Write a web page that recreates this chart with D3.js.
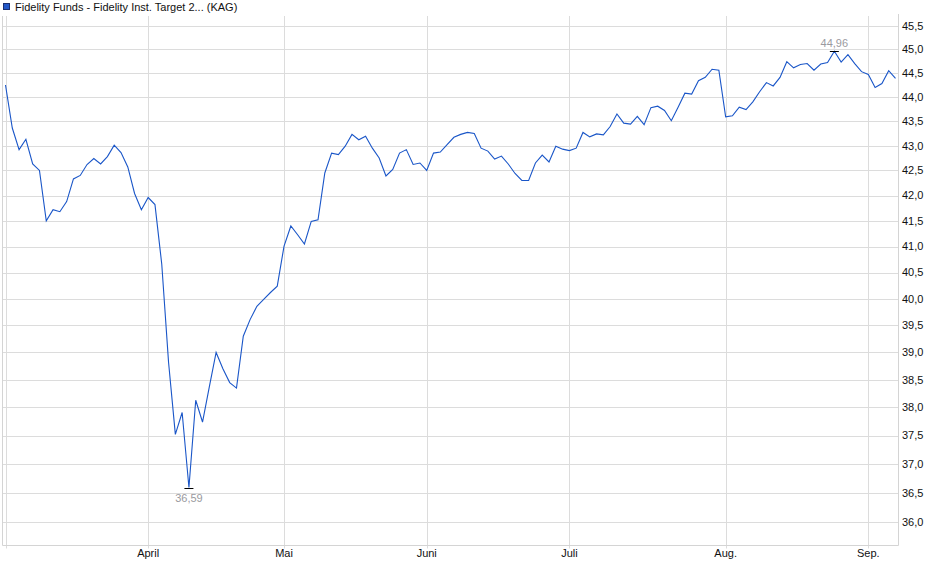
<!DOCTYPE html>
<html>
<head>
<meta charset="utf-8">
<script src="https://cdn.jsdelivr.net/npm/d3@7"></script>
<style>
  body { margin: 0; background: #fff; }
  text { font-family: "Liberation Sans", Arial, sans-serif; }
</style>
</head>
<body>
<div id="chart"></div>
<script>
// Fund price, one value per trading day (Mar - Sep)
var prices = [
  44.25, 43.36, 42.92, 43.13, 42.63, 42.50, 41.50, 41.72, 41.68, 41.88,
  42.33, 42.40, 42.62, 42.74, 42.63, 42.78, 43.01, 42.86, 42.57, 42.04,
  41.72, 41.96, 41.82, 40.66, 38.82, 37.52, 37.91, 36.59, 38.13, 37.74,
  38.37, 39.00, 38.70, 38.45, 38.35, 39.30, 39.61, 39.86, 39.99, 40.12,
  40.24, 41.01, 41.40, 41.23, 41.05, 41.49, 41.52, 42.45, 42.85, 42.82,
  42.99, 43.23, 43.12, 43.19, 42.95, 42.75, 42.39, 42.52, 42.85, 42.92,
  42.62, 42.65, 42.50, 42.85, 42.87, 43.02, 43.17, 43.23, 43.27, 43.25,
  42.95, 42.89, 42.73, 42.79, 42.63, 42.44, 42.30, 42.30, 42.65, 42.81,
  42.67, 42.99, 42.93, 42.90, 42.95, 43.27, 43.18, 43.24, 43.22, 43.39,
  43.65, 43.46, 43.44, 43.60, 43.43, 43.78, 43.81, 43.72, 43.51, 43.79,
  44.08, 44.06, 44.34, 44.41, 44.58, 44.56, 43.59, 43.61, 43.79, 43.74,
  43.90, 44.11, 44.30, 44.23, 44.41, 44.74, 44.61, 44.68, 44.70, 44.56,
  44.69, 44.72, 44.96, 44.73, 44.89, 44.70, 44.53, 44.47, 44.20, 44.28,
  44.55, 44.39
];

// month ticks (index of first trading day of the month)
var monthIndex = [0, 21, 41, 62, 83, 106, 127];
var monthLabels = ["", "April", "Mai", "Juni", "Juli", "Aug.", "Sep."];

var yTicks = [36.0, 36.5, 37.0, 37.5, 38.0, 38.5, 39.0, 39.5, 40.0, 40.5,
  41.0, 41.5, 42.0, 42.5, 43.0, 43.5, 44.0, 44.5, 45.0, 45.5];

var title = "Fidelity Funds - Fidelity Inst. Target 2... (KAG)";

var svgWidth = 940;
var svgHeight = 579;

var plot = { left: 2.5, right: 898.5, top: 16, bottom: 545.5 };

var svg = d3.select("#chart")
  .append("svg")
  .attr("width", svgWidth)
  .attr("height", svgHeight);

// Scales
var xScale = d3.scaleLinear()
  .domain([0, prices.length - 1])
  .range([5.5, 895.5]);

var yScale = d3.scaleLog()
  .domain([36, 45.5])
  .range([522, 26]);

var deFormat = d3.formatLocale({ decimal: ",", thousands: ".", grouping: [3], currency: ["", "€"] });
var fmt1 = deFormat.format(".1f");
var fmt2 = deFormat.format(".2f");

// horizontal grid
svg.append("g")
  .selectAll("line")
  .data(yTicks)
  .enter()
  .append("line")
  .attr("x1", plot.left)
  .attr("x2", plot.right)
  .attr("y1", d => Math.round(yScale(d)) + 0.5)
  .attr("y2", d => Math.round(yScale(d)) + 0.5)
  .attr("stroke", "#dcdcdc")
  .attr("stroke-width", 1);

// vertical grid + month ticks
svg.append("g")
  .selectAll("line")
  .data(monthIndex)
  .enter()
  .append("line")
  .attr("x1", d => Math.round(xScale(d)) + 0.5)
  .attr("x2", d => Math.round(xScale(d)) + 0.5)
  .attr("y1", plot.top)
  .attr("y2", plot.bottom + 3)
  .attr("stroke", "#dcdcdc")
  .attr("stroke-width", 1);

// frame: left, bottom, right
svg.append("path")
  .attr("d", `M${plot.left},${plot.top}V${plot.bottom}H${plot.right}V${plot.top - 2}`)
  .attr("fill", "none")
  .attr("stroke", "#d4d4d4")
  .attr("stroke-width", 1);

// y labels on the right
svg.append("g")
  .selectAll("text")
  .data(yTicks)
  .enter()
  .append("text")
  .attr("x", 902)
  .attr("y", d => yScale(d))
  .attr("dy", "0.35em")
  .attr("font-size", "11px")
  .attr("fill", "#111")
  .text(d => fmt1(d));

// month labels
svg.append("g")
  .selectAll("text")
  .data(monthIndex)
  .enter()
  .append("text")
  .attr("x", d => xScale(d))
  .attr("y", 557)
  .attr("text-anchor", "middle")
  .attr("font-size", "11px")
  .attr("fill", "#111")
  .text((d, i) => monthLabels[i]);

// price line
var line = d3.line()
  .x((d, i) => xScale(i))
  .y(d => yScale(d));

svg.append("path")
  .datum(prices)
  .attr("d", line)
  .attr("fill", "none")
  .attr("stroke", "#1a56c8")
  .attr("stroke-width", 1.1);

// min / max markers
var minI = d3.minIndex(prices);
var maxI = d3.maxIndex(prices);

[minI, maxI].forEach(function(i) {
  var cx = xScale(i);
  var cy = Math.round(yScale(prices[i])) + 0.5;
  svg.append("line")
    .attr("x1", cx - 4.5)
    .attr("x2", cx + 4.5)
    .attr("y1", cy)
    .attr("y2", cy)
    .attr("stroke", "#000")
    .attr("stroke-width", 1);
  svg.append("text")
    .attr("x", cx)
    .attr("y", i === minI ? cy + 13.5 : cy - 5)
    .attr("text-anchor", "middle")
    .attr("font-size", "11px")
    .attr("fill", "#9a9aa0")
    .text(fmt2(prices[i]));
});

// legend / title
svg.append("rect")
  .attr("x", 3.5)
  .attr("y", 3.5)
  .attr("width", 6)
  .attr("height", 6)
  .attr("fill", "#2358c8")
  .attr("stroke", "#1b2f70")
  .attr("stroke-width", 1);

svg.append("text")
  .attr("x", 15)
  .attr("y", 11)
  .attr("font-size", "11px")
  .attr("fill", "#111")
  .text(title);
</script>
</body>
</html>
